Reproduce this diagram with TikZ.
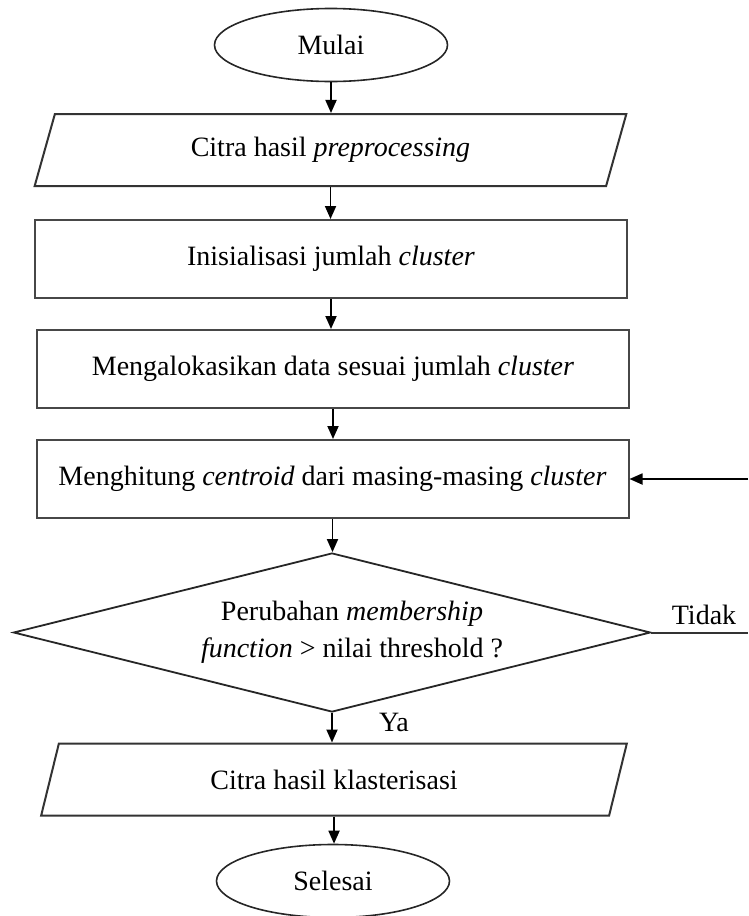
\documentclass[tikz,border=0pt]{standalone}
\usepackage{fontspec}
\setmainfont{Liberation Serif}
\usetikzlibrary{shapes.geometric,arrows.meta}

\tikzset{
  txt/.style={font=\fontsize{28}{37}\selectfont},
  every node/.style={txt, inner sep=0pt},
  outline/.style={draw=black!72, line width=2pt},
  terminal/.style={draw=black!85, line width=1.6pt, ellipse, minimum width=233pt, minimum height=73pt},
  iobox/.style={draw=black!80, line width=2pt, trapezium, trapezium left angle=68, trapezium right angle=112,
                trapezium stretches=true, minimum height=72pt},
  procbox/.style={outline, rectangle, minimum width=592pt, minimum height=78pt},
  decision/.style={draw=black!85, line width=1.8pt, diamond, minimum width=637pt, minimum height=159pt},
  flow/.style={draw=black, line width=1.8pt, -{Triangle[length=13pt,width=11pt]}},
  plain/.style={draw=black!80, line width=2pt},
}

\begin{document}
\begin{tikzpicture}[x=1pt, y=-1pt]
  \useasboundingbox (0,0) rectangle (748,916);

  % steps of the clustering procedure
  \node[terminal] (mulai) at (331,45) {Mulai};
  \node[iobox, minimum width=593pt] (input) at (330.5,150) {Citra hasil \textit{preprocessing}};
  \node[procbox] (init) at (331,259) {Inisialisasi jumlah \textit{cluster}};
  \node[procbox] (alloc) at (333,369) {Mengalokasikan data sesuai jumlah \textit{cluster}};
  \node[procbox] (centroid) at (332.5,479) {Menghitung \textit{centroid} dari masing-masing \textit{cluster}};
  \node[decision, label={[xshift=20pt, align=center, txt]center:Perubahan \textit{membership}\\\textit{function} > nilai threshold ?}] (check) at (332,632.5) {};
  \node[iobox, minimum width=588pt] (output) at (334,779.5) {Citra hasil klasterisasi};
  \node[terminal] (selesai) at (333,881) {Selesai};

  % free ends of the loop back to the centroid step
  \coordinate (loopA) at (748,632.5);
  \coordinate (loopB) at (748,479);

  % main flow, kept vertical
  \draw[flow] (mulai.south) -- (mulai.south |- input.north);
  \draw[flow] (input.south) -- (input.south |- init.north);
  \draw[flow] (init.south) -- (init.south |- alloc.north);
  \draw[flow] (alloc.south) -- (alloc.south |- centroid.north);
  \draw[flow] (centroid.south) -- (centroid.south |- check.north);
  \draw[flow] (check.south) -- (check.south |- output.north);
  \draw[flow] (output.south) -- (output.south |- selesai.north);

  % repeat branch
  \draw[plain] (check.east) -- (loopA);
  \draw[flow] (loopB) -- (centroid.east);

  % branch labels
  \node (ya) at (394,722) {Ya};
  \node (tidak) at (704,615) {Tidak};
\end{tikzpicture}
\end{document}
